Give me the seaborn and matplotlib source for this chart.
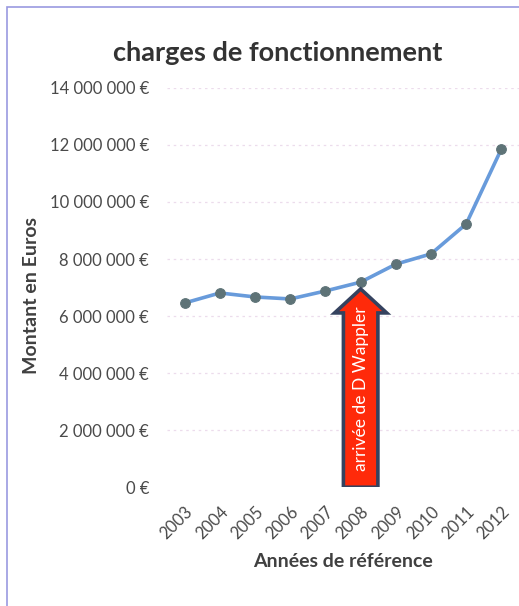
import numpy as np
import pandas as pd
import matplotlib
matplotlib.use("Agg")
import matplotlib.pyplot as plt
import seaborn as sns
from matplotlib.patches import Rectangle
from matplotlib.ticker import FuncFormatter

# Data
annees = ["2003", "2004", "2005", "2006", "2007", "2008", "2009", "2010", "2011", "2012"]
montants = [6.46e6, 6.81e6, 6.67e6, 6.60e6, 6.88e6, 7.19e6, 7.82e6, 8.18e6, 9.23e6, 11.86e6]
y_ticks = [0, 2e6, 4e6, 6e6, 8e6, 10e6, 12e6, 14e6]

df = pd.DataFrame({"Année": annees, "Montant": montants})
df["pos"] = np.arange(len(annees))

sns.set_style("white")
plt.rcParams["font.family"] = ["Lato", "DejaVu Sans"]

fig = plt.figure(figsize=(5.19, 6.06), dpi=100)
ax = fig.add_axes([0.322, 0.196, 0.678, 0.659])

# faint grid lines
for v in y_ticks[1:]:
    ax.axhline(v, color="#ecdcec", lw=0.9, ls=(0, (2, 3)), zorder=0)

sns.lineplot(data=df, x="pos", y="Montant", ax=ax, color="#689bdb", lw=2.6,
             marker="o", markersize=7, markerfacecolor="#5e7377",
             markeredgecolor="#5e7377", zorder=3)

# arrow "arrivée de D Wappler" under 2008
ax.arrow(5, 0, 0, 6.95e6, width=0.98, head_width=1.48, head_length=0.84e6,
         length_includes_head=True, facecolor="#ff2a0a", edgecolor="#35425f",
         lw=2.6, zorder=4)
ax.text(5, 3.45e6, "arrivée de D Wappler", rotation=90, color="white",
        fontsize=12.5, ha="center", va="center", zorder=5)

ax.set_xlim(-0.5, 9.5)
ax.set_ylim(0, 14e6)
ax.set_xticks(df["pos"])
ax.set_xticklabels(annees, rotation=45, ha="right", rotation_mode="anchor",
                   fontsize=12, color="#4a4a4a")
ax.set_yticks(y_ticks)
ax.yaxis.set_major_formatter(FuncFormatter(
    lambda v, p: "{:,.0f} €".format(v).replace(",", " ")))
ax.tick_params(axis="y", labelsize=12, labelcolor="#4a4a4a", pad=13, length=0)
ax.tick_params(axis="x", pad=12, length=0)
sns.despine(ax=ax, left=True, bottom=True)

ax.set_xlabel("Années de référence", fontsize=14, fontweight="bold",
              color="#404040")
ax.xaxis.set_label_coords(0.5, -0.165)
ax.set_ylabel("Montant en Euros", fontsize=14, fontweight="bold",
              color="#404040")
ax.yaxis.set_label_coords(-0.36, 0.48)
fig.text(0.535, 0.913, "charges de fonctionnement", fontsize=19.5,
         fontweight="bold", color="#333333", ha="center", va="center")

# chart frame
fig.patches.append(Rectangle((7 / 519, -0.05), 1.1, 1.05 - 7 / 606,
                             transform=fig.transFigure, fill=False,
                             edgecolor="#9a9ae0", lw=1.2))

fig.savefig("out.png", dpi=100)
